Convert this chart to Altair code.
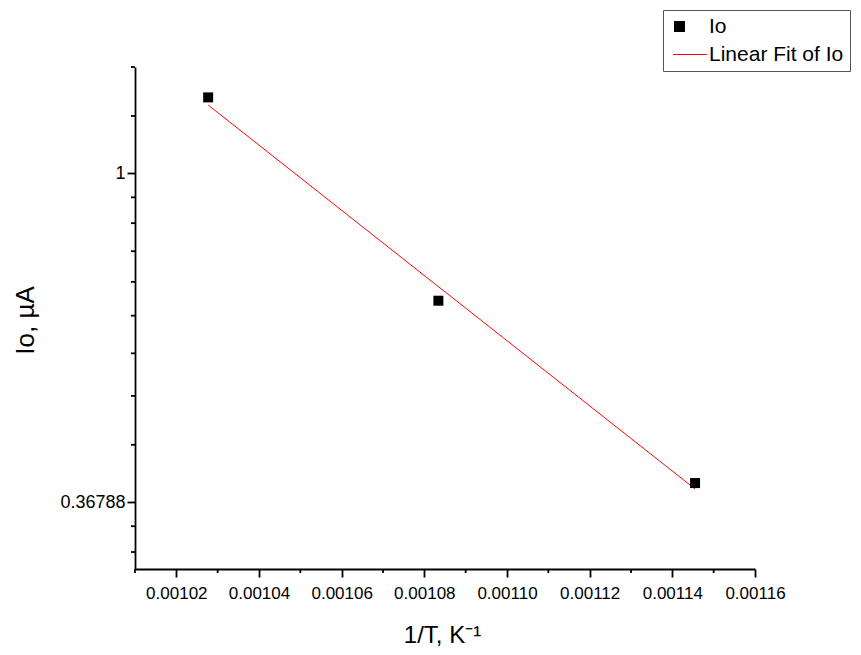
import math
import altair as alt
import pandas as pd

# ---- data ----
inv_T = [0.0010277, 0.0010834, 0.0011455]      # 1/T, K^-1
Io = [1.260, 0.679, 0.390]                      # Io, µA
fit_x = [0.0010277, 0.0011455]                  # linear fit (ln Io vs 1/T) end points
fit_y = [1.231, 0.383]
series_names = ["Io", "Linear Fit of Io"]

x_major = [0.00102, 0.00104, 0.00106, 0.00108, 0.00110, 0.00112, 0.00114, 0.00116]
x_minor = [0.00101, 0.00103, 0.00105, 0.00107, 0.00109, 0.00111, 0.00113, 0.00115]
y_major = [1, 0.36788]
y_minor = [1.38184, 1.19092, 0.92976, 0.85953, 0.78929, 0.71906, 0.64882,
           0.57858, 0.50835, 0.43811, 0.34204, 0.31620]

x_domain = [0.00101, 0.00116]
y_domain = [0.3003, 1.382]

FONT = "Liberation Sans"
W, H = 620, 502

pts = pd.DataFrame({"x": inv_T, "y": Io, "series": ["Io"] * len(Io)})
fit = pd.DataFrame({"x": fit_x, "y": fit_y})
xmin = pd.DataFrame({"x": x_minor})
ymin = pd.DataFrame({"y": y_minor})

xscale = alt.Scale(domain=x_domain, nice=False, zero=False)
yscale = alt.Scale(type="log", base=math.e, domain=y_domain, nice=False)

x_axis = alt.Axis(
    values=x_major, format=".5f", title="1/T, K\u207b\u00b9",
    grid=False, domainColor="black", domainWidth=1.8, tickColor="black",
    tickWidth=1.8, tickSize=8, labelFont=FONT, labelFontSize=17,
    labelColor="black", labelBaseline="alphabetic", labelPadding=21,
    labelFlush=False, labelOverlap=False,
    titleFont=FONT, titleFontSize=24, titleFontWeight="normal",
    titleColor="black", titleX=307, titleY=73, titleAlign="center",
    titleBaseline="alphabetic",
)
y_axis = alt.Axis(
    values=y_major, format=".5~g", title="Io, \u00b5A",
    grid=False, domainColor="black", domainWidth=1.8, tickColor="black",
    tickWidth=1.8, tickSize=8, labelFont=FONT, labelFontSize=18,
    labelColor="black", labelPadding=2, labelFlush=False, labelOverlap=False,
    titleFont=FONT, titleFontSize=26, titleFontWeight="normal",
    titleColor="black", titleX=-110, titleY=253, titleAngle=270,
    titleAlign="center", titleBaseline="middle",
)

line_shape = "M-1.2,-0.1H5V0.1H-1.2Z"
legend = alt.Legend(
    title=None, orient="none", legendX=528, legendY=-57,
    strokeColor="#555555", fillColor="white", padding=6,
    labelFont=FONT, labelFontSize=21, labelColor="black", labelOffset=19,
    symbolSize=121, symbolStrokeWidth=0, rowPadding=6,
)

fit_layer = alt.Chart(fit).mark_line(color="red", strokeWidth=1).encode(
    x=alt.X("x:Q", scale=xscale, axis=x_axis),
    y=alt.Y("y:Q", scale=yscale, axis=y_axis),
)

pt_layer = alt.Chart(pts).mark_point(filled=True, opacity=1, size=100).encode(
    x=alt.X("x:Q", scale=xscale),
    y=alt.Y("y:Q", scale=yscale),
    shape=alt.Shape("series:N", scale=alt.Scale(domain=series_names, range=["square", line_shape]), legend=legend),
    color=alt.Color("series:N", scale=alt.Scale(domain=series_names, range=["black", "red"]), legend=legend),
)

xminor_layer = alt.Chart(xmin).mark_rule(color="black", strokeWidth=1.8).encode(
    x=alt.X("x:Q", scale=xscale),
    y=alt.value(H), y2=alt.value(H + 4),
)
yminor_layer = alt.Chart(ymin).mark_rule(color="black", strokeWidth=1.8).encode(
    y=alt.Y("y:Q", scale=yscale),
    x=alt.value(-4), x2=alt.value(0),
)

chart = alt.layer(fit_layer, xminor_layer, yminor_layer, pt_layer).properties(
    width=W, height=H,
    autosize=alt.AutoSizeParams(type="none"),
    padding={"left": 127, "top": 59, "right": 98, "bottom": 78},
    background="white",
).configure_view(stroke=None)

chart.save("out.html", embed_options={"renderer": "svg", "actions": False})
